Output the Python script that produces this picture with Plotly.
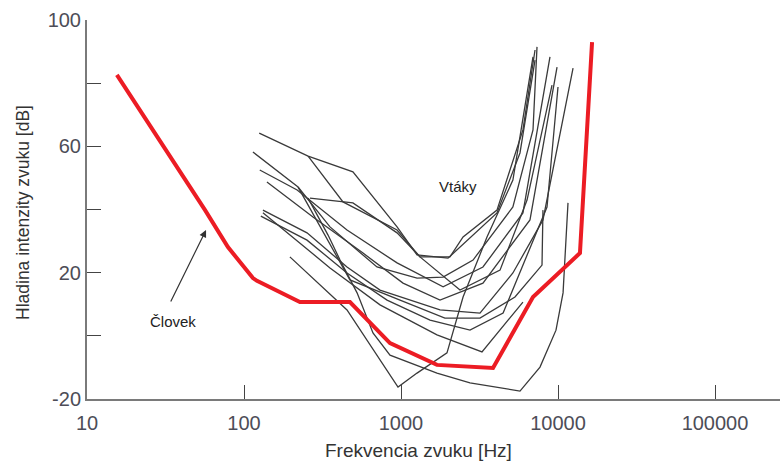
import math
import plotly.graph_objects as go

# Human hearing threshold (red)
human_hz = [15.5, 56.5, 79, 114, 121, 227, 473, 851, 1694, 3855, 6930, 13800, 16480]
human_db = [82.6, 39.8, 28.1, 18.3, 17.4, 10.7, 10.7, -2.3, -9.2, -10.2, 12.3, 26.2, 93.0]

# Bird audiograms (black)
bird_a_hz = [125, 256, 494, 944, 1265, 1993, 4086, 5725, 7140]
bird_a_db = [64.2, 56.9, 51.9, 34.5, 25.6, 24.6, 38.9, 57.9, 87.3]
bird_b_hz = [114, 221, 353, 703, 1265, 1854, 2877, 5160, 6930, 7350]
bird_b_db = [58.2, 47.1, 34.5, 21.8, 18.3, 18.6, 24.0, 40.8, 65.2, 91.5]
bird_c_hz = [126, 218, 453, 944, 1854, 3327, 5980, 8890]
bird_c_db = [52.5, 46.2, 33.5, 23.1, 15.5, 21.8, 38.9, 88.3]
bird_d_hz = [140, 275, 573, 1030, 1772, 3327, 6630, 9860]
bird_d_db = [48.7, 37.6, 26.2, 16.7, 11.3, 16.7, 36.7, 85.1]
bird_e_hz = [132, 252, 453, 735, 1772, 3184, 5160, 8020, 12470]
bird_e_db = [39.8, 32.6, 21.8, 14.5, 8.2, 7.2, 19.9, 36.7, 84.8]
bird_f_hz = [128, 252, 453, 815, 1531, 2750, 4470, 8510, 10000]
bird_f_db = [37.9, 30.3, 19.9, 11.3, 5.0, 1.8, 7.2, 40.8, 78.8]
bird_g_hz = [196, 453, 957, 1265, 1963, 2485, 3530, 5160, 6930]
bird_g_db = [25.0, 8.2, -16.2, -11.8, -5.4, 12.3, 31.3, 49.3, 88.3]
bird_h_hz = [256, 427, 944, 1321, 2376, 4273, 6350, 9160]
bird_h_db = [56.9, 42.4, 33.5, 25.0, 14.5, 20.8, 43.0, 79.4]
bird_i_hz = [263, 494, 944, 1321, 2050, 2485, 4086, 5980, 7140]
bird_i_db = [43.6, 42.1, 32.6, 25.0, 25.0, 31.3, 39.8, 65.2, 90.5]
bird_j_hz = [256, 343, 409, 525, 663, 851, 1695, 2750, 5725, 7680, 9710, 10770, 11580]
bird_j_db = [43.6, 31.9, 24.0, 13.6, 0.9, -6.1, -11.8, -14.9, -17.5, -9.9, 1.8, 13.6, 42.1]
bird_k_hz = [132, 353, 735, 1695, 3280, 5980]
bird_k_db = [39.0, 21.5, 9.8, 0.3, -5.1, 10.7]
bird_l_hz = [221, 473, 986, 1905, 3184, 5321, 7910, 8020]
bird_l_db = [47.1, 17.7, 11.3, 5.6, 5.6, 12.3, 22.4, 39.8]

birds = [
    (bird_a_hz, bird_a_db), (bird_b_hz, bird_b_db), (bird_c_hz, bird_c_db),
    (bird_d_hz, bird_d_db), (bird_e_hz, bird_e_db), (bird_f_hz, bird_f_db),
    (bird_g_hz, bird_g_db), (bird_h_hz, bird_h_db), (bird_i_hz, bird_i_db),
    (bird_j_hz, bird_j_db), (bird_k_hz, bird_k_db), (bird_l_hz, bird_l_db),
]

x_ticks = [10, 100, 1000, 10000, 100000]
x_ticktext = ["10", "100", "1000", "10000", "100000"]
y_ticks = [-20, 0, 20, 40, 60, 80, 100]
y_ticktext = ["-20", "", "20", "", "60", "", "100"]

fig = go.Figure()
for hz, db in birds:
    fig.add_trace(go.Scatter(x=hz, y=db, mode="lines",
                             line=dict(color="#3a3a3a", width=1.3),
                             hoverinfo="skip", showlegend=False))
fig.add_trace(go.Scatter(x=human_hz, y=human_db, mode="lines",
                         line=dict(color="#ec1c24", width=4),
                         showlegend=False))

tick_font = dict(family="Liberation Sans, Arial, sans-serif", size=20, color="#4d4d57")
title_font = dict(family="Liberation Sans, Arial, sans-serif", size=19, color="#333333")
ytitle_font = dict(family="Liberation Sans, Arial, sans-serif", size=17.5, color="#333333")

L, R, T, B = 87, 780, 20, 399

fig.update_layout(
    width=780, height=462,
    margin=dict(l=L, r=780 - R, t=T, b=462 - B),
    paper_bgcolor="white", plot_bgcolor="white",
    xaxis=dict(type="log", range=[1, 5.414], tickvals=x_ticks, ticktext=x_ticktext,
               ticks="inside", ticklen=14, tickwidth=1.3, tickcolor="#444444",
               ticklabelstandoff=5,
               showline=True, linecolor="#7a7a7a", linewidth=2,
               showgrid=False, zeroline=False, tickfont=tick_font),
    yaxis=dict(range=[-20, 100], tickvals=y_ticks, ticktext=y_ticktext,
               ticks="inside", ticklen=14, tickwidth=1.3, tickcolor="#444444",
               showline=True, linecolor="#7a7a7a", linewidth=2,
               showgrid=False, zeroline=False, tickfont=tick_font),
    annotations=[
        dict(x=math.log10(57.3), y=33.5, xref="x", yref="y", text="",
             showarrow=True, arrowhead=2, arrowsize=1.2, arrowwidth=1.2, arrowcolor="#333333",
             ax=-36, ay=73),
        dict(x=math.log10(35.3), y=4.4, xref="x", yref="y", text="Človek",
             showarrow=False, font=dict(family="Liberation Sans, Arial, sans-serif", size=15, color="#222222")),
        dict(x=math.log10(2306), y=47.4, xref="x", yref="y", text="Vtáky",
             showarrow=False, font=dict(family="Liberation Sans, Arial, sans-serif", size=15, color="#222222")),
        dict(x=(418 - L) / (R - L), y=-(450 - B) / (B - T), xref="paper", yref="paper",
             text="Frekvencia zvuku [Hz]", showarrow=False, font=title_font,
             xanchor="center", yanchor="middle"),
        dict(x=-(L - 23) / (R - L), y=(B - 213) / (B - T), xref="paper", yref="paper",
             text="Hladina intenzity zvuku [dB]", showarrow=False, font=ytitle_font,
             textangle=-90, xanchor="center", yanchor="middle"),
    ],
)

fig.write_html("out.html")
